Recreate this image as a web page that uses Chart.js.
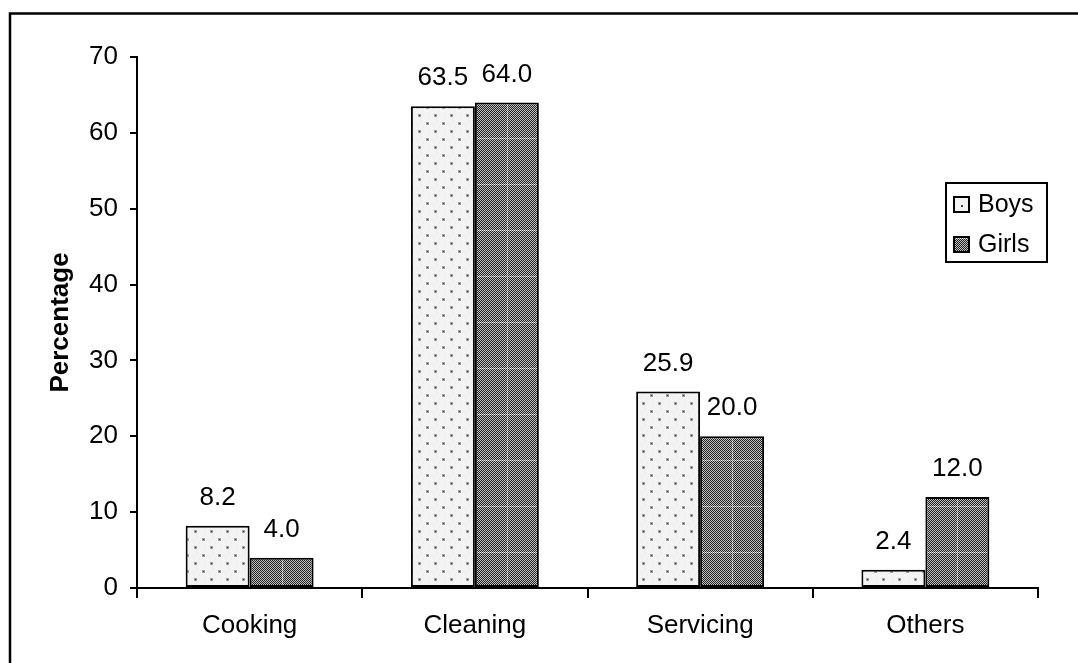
<!DOCTYPE html>
<html>
<head>
<meta charset="utf-8">
<script src="https://cdn.jsdelivr.net/npm/chart.js@4"></script>
<style>
  html, body { margin: 0; padding: 0; background: #fff; }
  #wrap { width: 1078px; height: 663px; }
</style>
</head>
<body>
<div id="wrap"><canvas id="chart" width="1078" height="663"></canvas></div>
<script>
// Share of household chores by type, boys vs girls (%)
const categories = ['Cooking', 'Cleaning', 'Servicing', 'Others'];
const boysValues = [8.2, 63.5, 25.9, 2.4];
const girlsValues = [4.0, 64.0, 20.0, 12.0];
const seriesNames = ['Boys', 'Girls'];
const yMin = 0, yMax = 70, yStep = 10;

const FONT = "'Liberation Sans', Arial, Helvetica, sans-serif";

// Light dotted fill for the first series
function makeDotTile() {
  const c = document.createElement('canvas');
  c.width = 16; c.height = 16;
  const g = c.getContext('2d');
  g.fillStyle = '#f3f3f3';
  g.fillRect(0, 0, 16, 16);
  g.fillStyle = '#e4e4e4';
  [[5,3],[13,6],[1,12],[7,14],[12,1],[4,9]].forEach(p => g.fillRect(p[0], p[1], 1, 1));
  const dot = (x, y) => {
    g.fillStyle = '#a0a0a0';
    g.fillRect(x - 1, y - 1, 3, 3);
    g.fillStyle = '#333';
    g.fillRect(x, y, 1, 1);
  };
  dot(3, 3);
  dot(11, 11);
  return c;
}

// Fine checkered fill for the second series, with faint light bands
function makeCheckTile(w, h, bandX) {
  const c = document.createElement('canvas');
  c.width = w; c.height = h;
  const g = c.getContext('2d');
  for (let y = 0; y < h; y++) {
    for (let x = 0; x < w; x++) {
      const dark = (x + y) % 2 === 0;
      let col = dark ? '#1e1e1e' : '#c4c4c4';
      if (y === 0 || x === bandX) col = dark ? '#6a6a6a' : '#f4f4f4';
      g.fillStyle = col;
      g.fillRect(x, y, 1, 1);
    }
  }
  return c;
}

const dotTile = makeDotTile();
const checkTile = makeCheckTile(64, 46, 32);

const canvas = document.getElementById('chart');
const ctx2d = canvas.getContext('2d');
const dotPattern = ctx2d.createPattern(dotTile, 'repeat');

function checkFill(context) {
  const p = ctx2d.createPattern(checkTile, 'repeat');
  const sx = context.chart.scales && context.chart.scales.x;
  if (sx && typeof context.dataIndex === 'number') {
    const left = Math.round(sx.getPixelForValue(context.dataIndex));
    p.setTransform(new DOMMatrix().translate(left, 0));
  }
  return p;
}

// White page with a frame running off the right and bottom edges
const framePlugin = {
  id: 'frame',
  beforeDraw(chart) {
    const c = chart.ctx;
    c.save();
    c.fillStyle = '#fff';
    c.fillRect(0, 0, chart.width, chart.height);
    c.strokeStyle = '#000';
    c.lineWidth = 2.5;
    c.strokeRect(10, 13.5, chart.width + 40, chart.height + 40);
    c.restore();
  }
};

// Value printed above each bar
const valueLabels = {
  id: 'valueLabels',
  afterDatasetsDraw(chart) {
    const c = chart.ctx;
    c.save();
    c.font = '26px ' + FONT;
    c.fillStyle = '#000';
    c.textAlign = 'center';
    c.textBaseline = 'alphabetic';
    chart.data.datasets.forEach((ds, di) => {
      chart.getDatasetMeta(di).data.forEach((bar, i) => {
        c.fillText(ds.data[i].toFixed(1), bar.x, bar.y - 21);
      });
    });
    c.restore();
  }
};

// Boxed legend inside the plot area
const boxLegend = {
  id: 'boxLegend',
  afterDraw(chart, args, opts) {
    const c = chart.ctx;
    const { x, y, w, h, rowGap, swatch } = opts;
    c.save();
    c.fillStyle = '#fff';
    c.fillRect(x, y, w, h);
    c.strokeStyle = '#000';
    c.lineWidth = 2;
    c.strokeRect(x, y, w, h);
    c.font = '25px ' + FONT;
    c.textBaseline = 'middle';
    c.textAlign = 'left';
    chart.data.datasets.forEach((ds, i) => {
      const sy = y + 14 + i * rowGap;
      const sxp = x + 8;
      if (i === 0) {
        c.fillStyle = '#f3f3f3';
        c.fillRect(sxp, sy, swatch, swatch);
        c.fillStyle = '#444';
        c.fillRect(sxp + 7, sy + 8, 2, 2);
      } else {
        const p = c.createPattern(checkTile, 'repeat');
        p.setTransform(new DOMMatrix().translate(sxp + 1, sy + 1));
        c.fillStyle = p;
        c.fillRect(sxp, sy, swatch, swatch);
      }
      c.strokeStyle = '#000';
      c.lineWidth = 2;
      c.strokeRect(sxp, sy, swatch, swatch);
      c.fillStyle = '#000';
      c.fillText(ds.label, sxp + swatch + 9, sy + swatch / 2 + 1);
    });
    c.restore();
  }
};

new Chart(canvas, {
  type: 'bar',
  data: {
    labels: categories,
    datasets: [
      {
        label: seriesNames[0],
        data: boysValues,
        backgroundColor: dotPattern,
        borderColor: '#000',
        borderWidth: 2,
        borderSkipped: false
      },
      {
        label: seriesNames[1],
        data: girlsValues,
        backgroundColor: checkFill,
        borderColor: '#000',
        borderWidth: 2,
        borderSkipped: false
      }
    ]
  },
  options: {
    responsive: false,
    animation: false,
    devicePixelRatio: 1,
    layout: { padding: { top: 57, right: 40, left: 0, bottom: 0 } },
    datasets: { bar: { categoryPercentage: 0.568, barPercentage: 1.0 } },
    plugins: {
      legend: { display: false },
      tooltip: { enabled: false },
      boxLegend: { x: 946, y: 183, w: 101, h: 79, rowGap: 40, swatch: 15 }
    },
    scales: {
      x: {
        afterFit(scale) { scale.height = 75; },
        grid: { offset: true, drawOnChartArea: false, drawTicks: true, tickLength: 10, color: '#000', lineWidth: 2 },
        border: { display: true, color: '#000', width: 2 },
        ticks: { color: '#000', padding: 12, font: { family: FONT, size: 26 } }
      },
      y: {
        min: yMin,
        max: yMax,
        afterFit(scale) { scale.width = 137; },
        grid: { drawOnChartArea: false, drawTicks: true, tickLength: 7, color: '#000', lineWidth: 2 },
        border: { display: true, color: '#000', width: 2 },
        ticks: { stepSize: yStep, color: '#000', padding: 12, font: { family: FONT, size: 26 } },
        title: {
          display: true,
          text: 'Percentage',
          color: '#000',
          font: { family: FONT, size: 26, weight: 'bold' },
          padding: { top: 45, bottom: 0 }
        }
      }
    }
  },
  plugins: [framePlugin, valueLabels, boxLegend]
});
</script>
</body>
</html>
